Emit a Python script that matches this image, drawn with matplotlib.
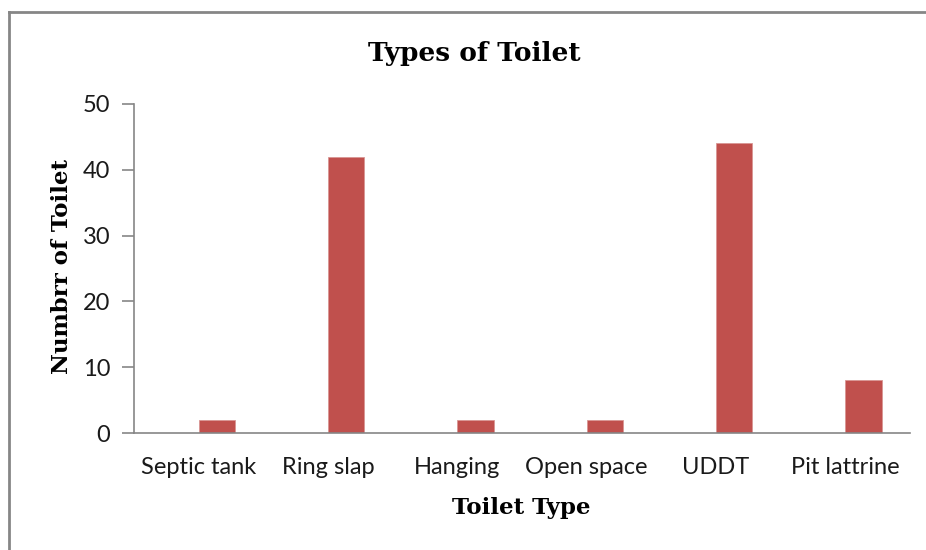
import matplotlib
matplotlib.use("Agg")
import matplotlib.pyplot as plt
from matplotlib.lines import Line2D

categories = ["Septic tank", "Ring slap", "Hanging", "Open space", "UDDT", "Pit lattrine"]
counts = [2, 42, 2, 2, 44, 8]
y_ticks = [0, 10, 20, 30, 40, 50]

W, H = 926, 550
fig = plt.figure(figsize=(W / 100, H / 100), dpi=100)
fig.patch.set_facecolor("white")

# outer chart-area border (left and top visible)
fig.add_artist(Line2D([9 / W, 9 / W], [0, 1 - 12 / H], transform=fig.transFigure,
                      color="#868686", lw=2))
fig.add_artist(Line2D([9 / W, 1], [1 - 12 / H, 1 - 12 / H], transform=fig.transFigure,
                      color="#868686", lw=2))

ax = fig.add_axes([134 / W, 1 - 433 / H, (910 - 134) / W, (433 - 104) / H])
centers = [i + 0.5 for i in range(len(categories))]
ax.bar(centers, counts, width=0.28, align="edge", color="#C0504D", edgecolor="#D99694", linewidth=0.6)

ax.set_xlim(0, len(categories))
ax.set_ylim(0, 50)
ax.set_yticks(y_ticks)
ax.set_xticks(centers)
ax.set_xticklabels(categories)

for lab in ax.get_xticklabels() + ax.get_yticklabels():
    lab.set_fontfamily(["Lato", "DejaVu Sans"])
    lab.set_fontsize(17)
    lab.set_color("#1a1a1a")

ax.tick_params(axis="x", length=0, pad=17)
ax.tick_params(axis="y", length=9, width=1.2, color="#868686", pad=8, direction="out")
for s in ["top", "right"]:
    ax.spines[s].set_visible(False)
for s in ["left", "bottom"]:
    ax.spines[s].set_color("#868686")
    ax.spines[s].set_linewidth(1.2)

serif = ["DejaVu Serif"]
fig.text(474 / W, 1 - 53 / H, "Types of Toilet", ha="center", va="center",
         fontsize=19, fontweight="bold", family=serif)
fig.text(62 / W, 1 - 266 / H, "Numbrr of Toilet", ha="center", va="center", rotation=90,
         fontsize=16.5, fontweight="bold", family=serif)
fig.text(521 / W, 1 - 508 / H, "Toilet Type", ha="center", va="center",
         fontsize=16.5, fontweight="bold", family=serif)

fig.savefig("out.png", dpi=100, facecolor="white")
